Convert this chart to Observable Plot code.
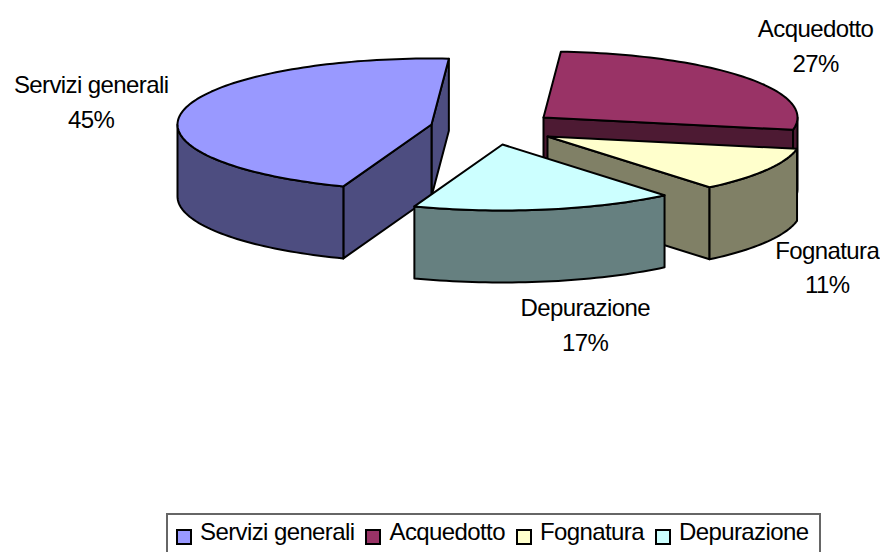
<!DOCTYPE html>
<html lang="it">
<head>
<meta charset="utf-8">
<script src="https://cdn.jsdelivr.net/npm/d3@7"></script>
<script src="https://cdn.jsdelivr.net/npm/@observablehq/plot@0.6"></script>
<style>
html,body{margin:0;padding:0;background:#fff;overflow:hidden;width:880px;height:552px}
#chart svg{display:block}
#chart text{font-family:"Liberation Sans",Arial,sans-serif;font-size:24px;letter-spacing:-0.6px;fill:#000}
#legend{position:absolute;left:166px;top:513px;width:655px;height:44px;border:2px solid #666;box-sizing:border-box;
 font:24px "Liberation Sans",Arial,sans-serif;letter-spacing:-0.6px;color:#000;display:flex;align-items:flex-start;padding:3px 0 0 8px;white-space:nowrap;background:#fff}
#legend .sw{display:inline-block;box-sizing:border-box;width:16px;height:16px;border:2px solid #000;margin:11px 8px 0 0;flex:none}
#legend .it{display:flex;margin-right:11px}
</style>
</head>
<body>
<div id="chart"></div>
<div id="legend"></div>
<script>
// Data (shown rounded as 45, 27, 11, 17 %)
const categories = ["Servizi generali", "Acquedotto", "Fognatura", "Depurazione"];
const shares = [45.45, 26.9, 11.0, 16.65];
const topColors = ["#9999FF", "#993366", "#FFFFCC", "#CCFFFF"];
const sideColors = ["#4D4D80", "#4D1A33", "#808066", "#668080"];

// Layout of the projected, exploded pie
const W = 880, H = 512;
const startAngle = 110.3, rx = 254, ry = 66, depth = 72;
const apexes = [[431,124],[543,117],[547,136],[502,144]];
const labelOffsets = [[-92,-11],[71,-34],[61,95],[40,113]];

const rad = d => d * Math.PI / 180;
const rim = (i, t) => [apexes[i][0] + rx * Math.cos(rad(t)), apexes[i][1] + ry * Math.sin(rad(t))];
const down = ([x, y]) => [x, y + depth];

let polys = [], labels = [], acc = startAngle;
const addPoly = (pts, color) => { const id = polys.length ? polys[polys.length-1].id + 1 : 0; pts.forEach(p => polys.push({id, x:p[0], y:p[1], color})); };
const arc = (i, a, b) => { const pts = []; const n = Math.max(2, Math.ceil((b-a)/1.5)); for (let k=0;k<=n;k++) pts.push(rim(i, a+(b-a)*k/n)); return pts; };

categories.forEach((name, i) => {
  const a = acc, b = acc + shares[i] * 3.6; acc = b;
  const apex = apexes[i], pa = rim(i,a), pb = rim(i,b);
  // straight cut walls: visible when their outward normal faces the viewer (downwards on screen)
  const wall = (p, sign) => {
    const nY = sign * (p[0] - apex[0]);
    if (nY > 0) addPoly([apex, p, down(p), down(apex)], sideColors[i]);
  };
  wall(pb, 1);   // edge at the end of the slice
  wall(pa, -1);  // edge at the start of the slice
  // front-facing part of the outer wall (sin t > 0)
  for (const k of [0, 360]) {
    const lo = Math.max(a, k), hi = Math.min(b, k + 180);
    if (hi > lo) { const top = arc(i, lo, hi); addPoly([...top, ...top.slice().reverse().map(down)], sideColors[i]); }
  }
  addPoly([apex, ...arc(i, a, b)], topColors[i]);
  const m = rim(i, (a+b)/2);
  labels.push({x: m[0]+labelOffsets[i][0], y: m[1]+labelOffsets[i][1], text: `${name}\n${d3.format(".0f")(shares[i])}%`});
});

const chart = Plot.plot({
  width: W, height: H, margin: 0,
  x: {domain:[0,W], range:[0,W], axis:null},
  y: {domain:[0,H], range:[0,H], axis:null},
  color: {type:"identity"},
  marks: [
    Plot.line(polys, {x:"x", y:"y", z:"id", fill:"color", stroke:"#000", strokeWidth:2, curve:"linear-closed", strokeLinejoin:"round"}),
    Plot.text(labels, {x:"x", y:"y", text:"text", textAnchor:"middle", lineHeight:1.44, fontSize:24})
  ]
});
document.getElementById("chart").append(chart);

const legend = d3.select("#legend");
categories.forEach((name,i) => {
  const it = legend.append("div").attr("class","it");
  it.append("span").attr("class","sw").style("background",topColors[i]);
  it.append("span").text(name);
});
</script>
</body>
</html>
